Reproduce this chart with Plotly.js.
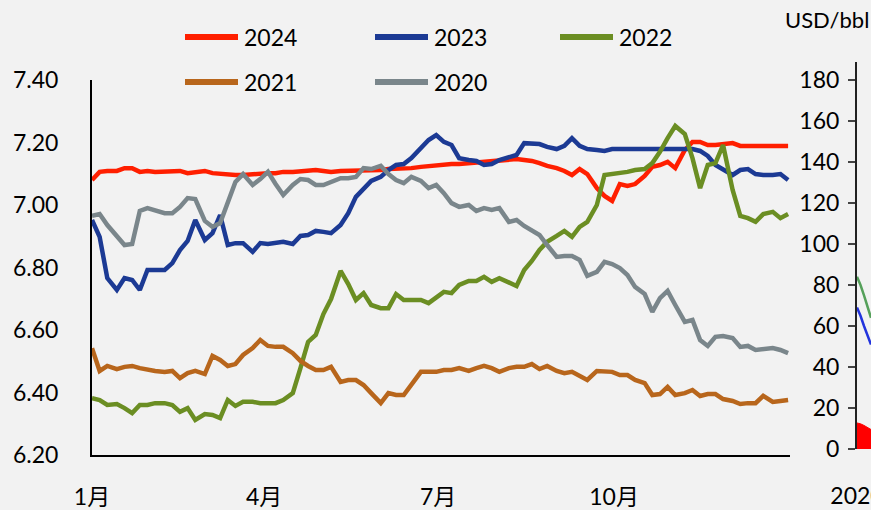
<!DOCTYPE html>
<html>
<head>
<meta charset="utf-8">
<script src="https://cdn.plot.ly/plotly-3.0.1.min.js"></script>
<style>
  html, body { margin: 0; padding: 0; background: #f2f2f2; }
  #chart { width: 871px; height: 510px; }
</style>
</head>
<body>
<div id="chart"></div>
<script>
// ---- data (day of year, values) ----
const days = [1,5,9,14,18,22,26,30,34,39,43,47,51,55,60,64,68,72,76,80,85,89,93,97,101,106,110,114,118,122,126,131,135,139,143,147,152,156,160,164,168,173,177,181,185,189,193,198,202,206,210,214,219,223,227,231,235,239,244,248,252,256,260,265,269,273,277,281,285,290,294,298,302,306,311,315,319,323,327,331,336,340,344,348,352,357,361,365];

const y2024 = [7.080,7.106,7.109,7.109,7.118,7.118,7.106,7.109,7.106,7.106,
  7.109,7.109,7.102,7.106,7.109,7.102,7.099,7.096,7.096,7.096,
  7.099,7.099,7.102,7.102,7.106,7.106,7.109,7.109,7.112,7.109,
  7.106,7.109,7.109,7.112,7.109,7.112,7.112,7.115,7.115,7.118,
  7.118,7.122,7.125,7.128,7.128,7.131,7.131,7.134,7.134,7.138,
  7.138,7.141,7.144,7.147,7.144,7.141,7.134,7.125,7.118,7.109,
  7.096,7.115,7.099,7.054,7.029,7.013,7.067,7.061,7.067,7.093,
  7.122,7.128,7.138,7.118,7.176,7.202,7.202,7.192,7.192,7.195,
  7.198,7.189,7.189,7.189,7.192,7.189,7.189,7.189];

const y2023 = [6.952,6.898,6.766,6.728,6.766,6.760,6.728,6.792,6.792,6.792,
  6.814,6.856,6.885,6.952,6.888,6.910,6.968,6.872,6.878,6.878,
  6.850,6.878,6.875,6.878,6.882,6.875,6.901,6.904,6.917,6.914,
  6.910,6.936,6.974,7.026,7.051,7.077,7.090,7.112,7.128,7.131,
  7.150,7.182,7.208,7.224,7.202,7.192,7.150,7.144,7.141,7.128,
  7.131,7.144,7.154,7.160,7.198,7.198,7.195,7.186,7.179,7.189,
  7.214,7.189,7.179,7.176,7.173,7.179,7.179,7.179,7.179,7.179,
  7.179,7.179,7.179,7.179,7.179,7.179,7.173,7.157,7.128,7.112,
  7.096,7.112,7.115,7.099,7.096,7.096,7.099,7.080];

const y2022 = [6.382,6.376,6.360,6.363,6.350,6.334,6.360,6.360,6.366,6.366,
  6.360,6.338,6.350,6.312,6.331,6.328,6.318,6.376,6.357,6.370,
  6.370,6.366,6.366,6.366,6.376,6.398,6.478,6.562,6.584,6.651,
  6.699,6.789,6.747,6.696,6.718,6.680,6.670,6.670,6.715,6.696,
  6.696,6.696,6.686,6.706,6.722,6.718,6.744,6.757,6.757,6.770,
  6.754,6.766,6.750,6.741,6.792,6.821,6.856,6.882,6.901,6.917,
  6.898,6.930,6.946,7.000,7.096,7.099,7.102,7.106,7.112,7.115,
  7.134,7.170,7.214,7.253,7.227,7.150,7.054,7.128,7.134,7.192,
  7.048,6.965,6.958,6.946,6.971,6.978,6.958,6.971];

const y2021 = [6.542,6.469,6.485,6.475,6.482,6.485,6.478,6.472,6.469,6.466,
  6.469,6.446,6.462,6.469,6.459,6.517,6.504,6.485,6.491,6.520,
  6.542,6.568,6.549,6.546,6.546,6.526,6.501,6.485,6.472,6.472,
  6.482,6.434,6.440,6.440,6.424,6.398,6.366,6.398,6.392,6.392,
  6.427,6.466,6.466,6.466,6.472,6.472,6.478,6.469,6.478,6.485,
  6.478,6.466,6.478,6.482,6.482,6.491,6.475,6.485,6.469,6.462,
  6.466,6.453,6.440,6.469,6.469,6.466,6.456,6.456,6.440,6.430,
  6.392,6.395,6.418,6.392,6.398,6.408,6.389,6.395,6.395,6.379,
  6.373,6.363,6.366,6.366,6.389,6.370,6.373,6.376];

const y2020 = [6.965,6.971,6.936,6.901,6.872,6.875,6.981,6.990,6.984,6.974,
  6.974,6.994,7.022,7.019,6.949,6.930,6.942,7.006,7.074,7.099,
  7.064,7.083,7.106,7.067,7.032,7.064,7.083,7.080,7.064,7.064,
  7.074,7.086,7.086,7.090,7.118,7.115,7.125,7.099,7.080,7.070,
  7.090,7.077,7.054,7.064,7.038,7.006,6.994,7.000,6.981,6.990,
  6.984,6.990,6.946,6.952,6.933,6.920,6.904,6.872,6.834,6.837,
  6.837,6.824,6.773,6.786,6.818,6.811,6.798,6.776,6.738,6.715,
  6.658,6.702,6.725,6.680,6.626,6.632,6.568,6.549,6.578,6.581,
  6.574,6.546,6.549,6.536,6.539,6.542,6.536,6.526];

const monthTickDays = [1, 91, 182, 274];
const monthTickText = ['1月', '4月', '7月', '10月'];
const seriesNames = ['2024', '2023', '2022', '2021', '2020'];
const seriesColors = ['#ff1f00', '#1c3a94', '#6b8e23', '#b8661c', '#7a868b'];

// cropped neighbouring oil-price chart (USD/bbl), only its first days are visible
const oilX = [0, 0.25, 0.5, 0.75, 1];
const oilGreen = [84, 80, 75, 69, 64];
const oilBlue = [69, 65, 60, 55, 51];
const oilRed = [12.7, 12.3, 11.5, 10.5, 9.5];
const oilTicks = [0, 20, 40, 60, 80, 100, 120, 140, 160, 180];

// ---- layout geometry helpers (pixels -> paper) ----
const W = 871, H = 510;
const L = 92, R = 0, T = 60, B = 55;
const PW = W - L - R, PH = H - T - B;
const px = x => (x - L) / PW;
const py = y => (H - B - y) / PH;

const FONT = 'Lato, "Noto Sans CJK SC", sans-serif';

const allY = [y2024, y2023, y2022, y2021, y2020];
const traces = allY.map((ys, i) => ({
  type: 'scatter', mode: 'lines', x: days, y: ys, name: seriesNames[i],
  line: { color: seriesColors[i], width: 4.5 }, xaxis: 'x', yaxis: 'y', showlegend: false
}));

traces.push({ type: 'scatter', mode: 'lines', x: oilX, y: oilRed, fill: 'tozeroy',
  fillcolor: '#ff0000', line: { color: '#ff0000', width: 1 }, xaxis: 'x2', yaxis: 'y2', showlegend: false });
traces.push({ type: 'scatter', mode: 'lines', x: oilX, y: oilGreen,
  line: { color: '#55a05a', width: 2.5 }, xaxis: 'x2', yaxis: 'y2', showlegend: false });
traces.push({ type: 'scatter', mode: 'lines', x: oilX, y: oilBlue,
  line: { color: '#2233dd', width: 2.5 }, xaxis: 'x2', yaxis: 'y2', showlegend: false });

// manual legend
const legendItems = [
  { i: 0, x0: 185, y: 37 }, { i: 1, x0: 375, y: 37 }, { i: 2, x0: 560, y: 37 },
  { i: 3, x0: 185, y: 82 }, { i: 4, x0: 375, y: 82 }
];
const shapes = [], annotations = [];
legendItems.forEach(it => {
  shapes.push({ type: 'line', xref: 'paper', yref: 'paper',
    x0: px(it.x0), x1: px(it.x0 + 53), y0: py(it.y), y1: py(it.y),
    line: { color: seriesColors[it.i], width: 6 } });
  annotations.push({ xref: 'paper', yref: 'paper', x: px(it.x0 + 57), y: py(it.y),
    xanchor: 'left', yanchor: 'middle', showarrow: false, text: seriesNames[it.i],
    font: { family: FONT, size: 23, color: '#000' } });
});
annotations.push({ xref: 'paper', yref: 'paper', x: px(783), y: py(20),
  xanchor: 'left', yanchor: 'middle', showarrow: false, text: 'USD/bbl',
  font: { family: FONT, size: 22, color: '#000' } });

const layout = {
  width: W, height: H,
  margin: { l: L, r: R, t: T, b: B, pad: 0 },
  paper_bgcolor: '#f2f2f2', plot_bgcolor: 'rgba(0,0,0,0)',
  font: { family: FONT, size: 23, color: '#000' },
  showlegend: false,
  xaxis: {
    domain: [0, px(790)], range: [1, 366], anchor: 'y',
    tickmode: 'array', tickvals: monthTickDays, ticktext: monthTickText,
    showline: true, linecolor: '#000', linewidth: 2,
    ticks: 'outside', ticklen: 20, tickcolor: 'rgba(0,0,0,0)',
    ticklabeloverflow: 'allow',
    showgrid: false, zeroline: false, tickfont: { family: FONT, size: 23 }
  },
  yaxis: {
    domain: [0, py(80)], range: [6.2, 7.4], anchor: 'x',
    tickmode: 'linear', tick0: 6.2, dtick: 0.2, tickformat: '.2f',
    showline: true, linecolor: '#000', linewidth: 2,
    ticks: 'outside', ticklen: 27, tickcolor: 'rgba(0,0,0,0)',
    showgrid: false, zeroline: false, tickfont: { family: FONT, size: 23 }
  },
  xaxis2: {
    domain: [px(857), 1], range: [0, 1], anchor: 'y2',
    tickmode: 'array', tickvals: [0], ticktext: ['2020'],
    showline: false, ticks: 'outside', ticklen: 26, tickcolor: 'rgba(0,0,0,0)',
    ticklabeloverflow: 'allow',
    showgrid: false, zeroline: false, tickfont: { family: FONT, size: 23 }
  },
  yaxis2: {
    domain: [py(449), py(62)], range: [0, 188.8], anchor: 'x2', side: 'left',
    tickmode: 'array', tickvals: oilTicks,
    showline: true, linecolor: '#222', linewidth: 2,
    ticks: 'outside', ticklen: 7, tickwidth: 2, tickcolor: '#444',
    ticklabelstandoff: 4,
    showgrid: false, zeroline: false, tickfont: { family: FONT, size: 23 }
  },
  shapes: shapes,
  annotations: annotations
};

Plotly.newPlot('chart', traces, layout, { displayModeBar: false, staticPlot: true });
</script>
</body>
</html>
